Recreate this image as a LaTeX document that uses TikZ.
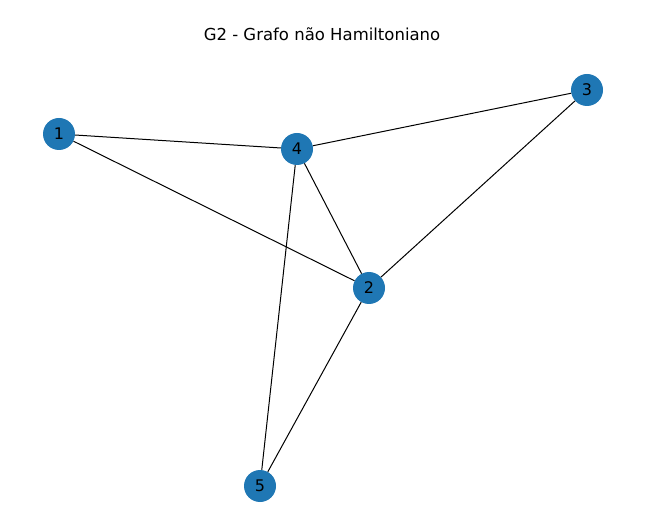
\documentclass[tikz,border=0pt]{standalone}
\usepackage{fontspec}
\setmainfont{DejaVu Sans}
\usepackage{tikz}
\usetikzlibrary{positioning}
\definecolor{nxblue}{HTML}{1F77B4}

\tikzset{
  vertex/.style={circle, fill=nxblue, minimum size=32pt, inner sep=0pt, font=\fontsize{16}{19}\selectfont},
  edge/.style={draw=black, line width=1pt}
}

\begin{document}
\begin{tikzpicture}[x=1pt, y=-1pt]
        \useasboundingbox (0,0) rectangle (645,526);
        
        % titulo
        \node[font=\fontsize{16.5}{20}\selectfont] (title) at (322,34) {G2 - Grafo não Hamiltoniano};
        
        % vertices
        \node[vertex] (v1) at (59,134) {1};
        \node[vertex] (v4) at (297,149) {4};
        \node[vertex] (v3) at (587,90) {3};
        \node[vertex] (v2) at (369,288) {2};
        \node[vertex] (v5) at (260,486) {5};
        
        % arestas
        \draw[edge] (v1) -- (v4);
        \draw[edge] (v1) -- (v2);
        \draw[edge] (v4) -- (v3);
        \draw[edge] (v4) -- (v2);
        \draw[edge] (v4) -- (v5);
        \draw[edge] (v3) -- (v2);
        \draw[edge] (v2) -- (v5);
    \end{tikzpicture}
\end{document}
